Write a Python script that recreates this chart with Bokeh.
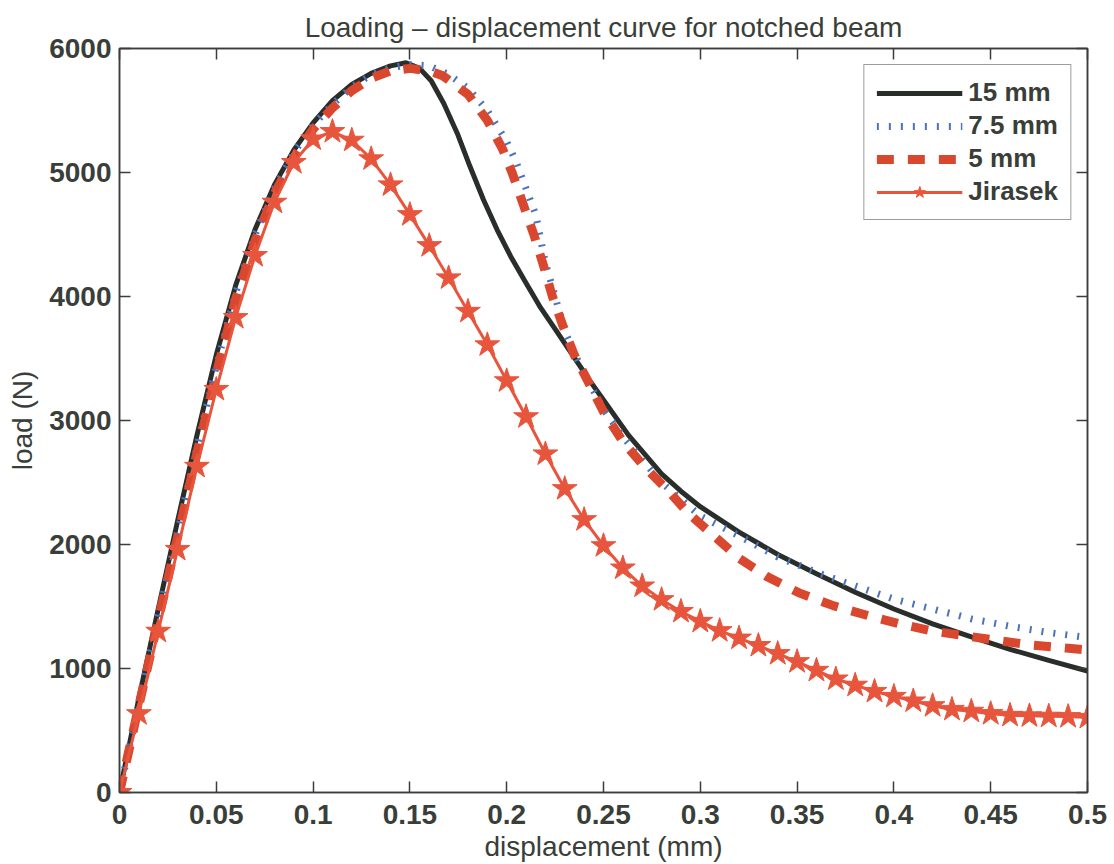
from bokeh.plotting import figure
from bokeh.models import (LinearAxis, FixedTicker, CustomJSTickFormatter, Legend,
                          LegendItem, Range1d)
from bokeh.embed import file_html
from bokeh.resources import INLINE

# ---------------- data ----------------
x_ticks = [0, 0.05, 0.1, 0.15, 0.2, 0.25, 0.3, 0.35, 0.4, 0.45, 0.5]
y_ticks = [0, 1000, 2000, 3000, 4000, 5000, 6000]

x_15mm = [0, 0.01, 0.02, 0.03, 0.04, 0.05, 0.06, 0.07, 0.08, 0.09, 0.10, 0.11,
          0.12, 0.13, 0.14, 0.148, 0.155, 0.161, 0.1675, 0.1745, 0.181, 0.188,
          0.195, 0.202, 0.209, 0.2175, 0.226, 0.235, 0.243, 0.25, 0.263, 0.28,
          0.29, 0.30, 0.32, 0.34, 0.36, 0.38, 0.40, 0.42, 0.44, 0.46, 0.48, 0.50]
load_15mm = [0, 760, 1480, 2190, 2880, 3530, 4090, 4540, 4900, 5180, 5400, 5580,
             5710, 5800, 5860, 5885, 5840, 5740, 5556, 5315, 5050, 4780,
             4540, 4325, 4135, 3910, 3715, 3505, 3320, 3165, 2880, 2570,
             2430, 2305, 2100, 1920, 1765, 1615, 1480, 1360, 1255, 1155, 1065, 980]

x_75mm = [0, 0.01, 0.02, 0.03, 0.04, 0.05, 0.06, 0.07, 0.08, 0.09, 0.10, 0.11,
          0.12, 0.13, 0.14, 0.15, 0.16, 0.17, 0.18, 0.19, 0.20, 0.205, 0.21,
          0.215, 0.22, 0.225, 0.23, 0.235, 0.24, 0.25, 0.26, 0.28, 0.30, 0.32,
          0.34, 0.36, 0.38, 0.40, 0.42, 0.44, 0.46, 0.48, 0.50]
load_75mm = [0, 720, 1420, 2100, 2790, 3440, 4030, 4500, 4870, 5160, 5380, 5550,
             5690, 5790, 5845, 5870, 5860, 5790, 5680, 5500, 5250, 5080, 4870,
             4660, 4270, 4000, 3720, 3540, 3380, 3090, 2870, 2500, 2230, 2070,
             1900, 1775, 1665, 1560, 1480, 1400, 1340, 1290, 1250]

x_5mm = [0, 0.01, 0.02, 0.03, 0.04, 0.05, 0.06, 0.07, 0.08, 0.09, 0.10, 0.11,
         0.12, 0.13, 0.14, 0.15, 0.16, 0.167, 0.18, 0.19, 0.198, 0.203, 0.2085,
         0.214, 0.219, 0.2235, 0.229, 0.235, 0.243, 0.25, 0.26, 0.271, 0.283,
         0.294, 0.307, 0.32, 0.334, 0.351, 0.369, 0.387, 0.403, 0.419, 0.436,
         0.454, 0.471, 0.489, 0.50]
load_5mm = [0, 700, 1390, 2060, 2740, 3380, 3980, 4450, 4830, 5120, 5350, 5520,
            5660, 5760, 5820, 5840, 5820, 5780, 5630, 5420, 5185, 4990, 4745,
            4500, 4250, 4005, 3765, 3525, 3285, 3070, 2830, 2630, 2440,
            2250, 2070, 1890, 1745, 1610, 1505, 1425, 1360, 1305, 1265,
            1225, 1190, 1165, 1150]

x_jirasek = [0, 0.01, 0.02, 0.03, 0.04, 0.05, 0.06, 0.07, 0.08, 0.09, 0.10,
             0.11, 0.12, 0.13, 0.14, 0.15, 0.16, 0.17, 0.18, 0.19, 0.20,
             0.21, 0.22, 0.23, 0.24, 0.25, 0.26, 0.27, 0.28, 0.29, 0.30,
             0.31, 0.32, 0.33, 0.34, 0.35, 0.36, 0.37, 0.38, 0.39, 0.40,
             0.41, 0.42, 0.43, 0.44, 0.45, 0.46, 0.47, 0.48, 0.49, 0.50]
load_jirasek = [0, 635, 1300, 1960, 2630, 3250, 3830, 4330, 4760, 5080, 5270,
                5330, 5260, 5110, 4900, 4660, 4410, 4150, 3880, 3610, 3320,
                3030, 2730, 2450, 2200, 1990, 1810, 1665, 1555, 1460, 1380,
                1305, 1245, 1185, 1120, 1055, 985, 915, 865, 815, 775,
                738, 700, 670, 655, 636, 622, 618, 615, 612, 605]

series_names = ["15 mm", "7.5 mm", "5 mm", "Jirasek"]

# ---------------- styling ----------------
FONT = "Liberation Sans"
INK = "#3a3e38"
BLACK = "#2a2e2a"
BLUE = "#4a72bd"
RED_DASH = "#d9472f"
RED_STAR = "#e8553d"

p = figure(width=1114, height=864,
           x_range=Range1d(0, 0.5), y_range=Range1d(0, 6000),
           output_backend="svg", toolbar_location=None,
           min_border_left=119, min_border_right=27,
           min_border_top=48, min_border_bottom=69,
           background_fill_color="white", border_fill_color="white")

p.title.text = "Loading \u2013 displacement curve for notched beam"
p.title.align = "center"
p.title.vertical_align = "top"
p.title.text_font = FONT
p.title.text_font_size = "28px"
p.title.text_font_style = "normal"
p.title.text_color = INK
p.title.standoff = 8

p.grid.visible = False
p.outline_line_color = INK
p.outline_line_width = 1.5

fmt = CustomJSTickFormatter(code="return tick.toFixed(2).replace(/\\.?0+$/, '');")

for ax in (p.xaxis[0], p.yaxis[0]):
    ax.axis_line_color = INK
    ax.axis_line_width = 1.5
    ax.major_tick_line_color = INK
    ax.major_tick_line_width = 1.5
    ax.major_tick_in = 11
    ax.major_tick_out = 0
    ax.minor_tick_line_color = None
    ax.major_label_text_font = FONT
    ax.major_label_text_font_size = "28px"
    ax.major_label_text_font_style = "bold"
    ax.major_label_text_color = INK
    ax.axis_label_text_font = FONT
    ax.axis_label_text_font_size = "28px"
    ax.axis_label_text_font_style = "normal"
    ax.axis_label_text_color = INK

p.xaxis[0].ticker = FixedTicker(ticks=x_ticks)
p.xaxis[0].formatter = fmt
p.xaxis[0].axis_label = "displacement (mm)"
p.xaxis[0].major_label_standoff = 12
p.xaxis[0].axis_label_standoff = 4

p.yaxis[0].ticker = FixedTicker(ticks=y_ticks)
p.yaxis[0].axis_label = "load (N)"
p.yaxis[0].major_label_standoff = 8
p.yaxis[0].axis_label_standoff = 8

# tick-only mirror axes (box style)
blank = CustomJSTickFormatter(code="return '';")
top_ax = LinearAxis(ticker=FixedTicker(ticks=x_ticks), formatter=blank)
right_ax = LinearAxis(ticker=FixedTicker(ticks=y_ticks), formatter=blank)
for ax in (top_ax, right_ax):
    ax.axis_line_color = INK
    ax.axis_line_width = 1.5
    ax.major_tick_line_color = INK
    ax.major_tick_line_width = 1.5
    ax.major_tick_in = 11
    ax.major_tick_out = 0
    ax.minor_tick_line_color = None
    ax.major_label_text_font_size = "0px"
    ax.major_label_standoff = 0
p.add_layout(top_ax, "above")
p.add_layout(right_ax, "right")

# ---------------- glyphs ----------------
r15 = p.line(x_15mm, load_15mm, line_color=BLACK, line_width=5)
r75 = p.line(x_75mm, load_75mm, line_color=BLUE, line_width=7,
             line_dash="2 10", line_cap="butt")
r5 = p.line(x_5mm, load_5mm, line_color=RED_DASH, line_width=9,
            line_dash="17 14", line_cap="butt")
rjl = p.line(x_jirasek, load_jirasek, line_color=RED_STAR, line_width=3)
rjs = p.scatter(x_jirasek, load_jirasek, marker="star", size=26,
                fill_color=RED_STAR, line_color=RED_STAR, line_width=1)

legend = Legend(items=[
    LegendItem(label=series_names[0], renderers=[r15]),
    LegendItem(label=series_names[1], renderers=[r75]),
    LegendItem(label=series_names[2], renderers=[r5]),
    LegendItem(label=series_names[3], renderers=[rjl, rjs]),
], location="top_right")
legend.margin = 16
legend.padding = 12
legend.spacing = 2
legend.glyph_width = 86
legend.glyph_height = 30
legend.label_height = 30
legend.label_standoff = 6
legend.label_text_font = FONT
legend.label_text_font_size = "26px"
legend.label_text_font_style = "bold"
legend.label_text_color = INK
legend.border_line_color = INK
legend.border_line_width = 1.5
legend.background_fill_color = "white"
legend.background_fill_alpha = 1.0
p.add_layout(legend)

open("out.html", "w").write(file_html(p, INLINE))
